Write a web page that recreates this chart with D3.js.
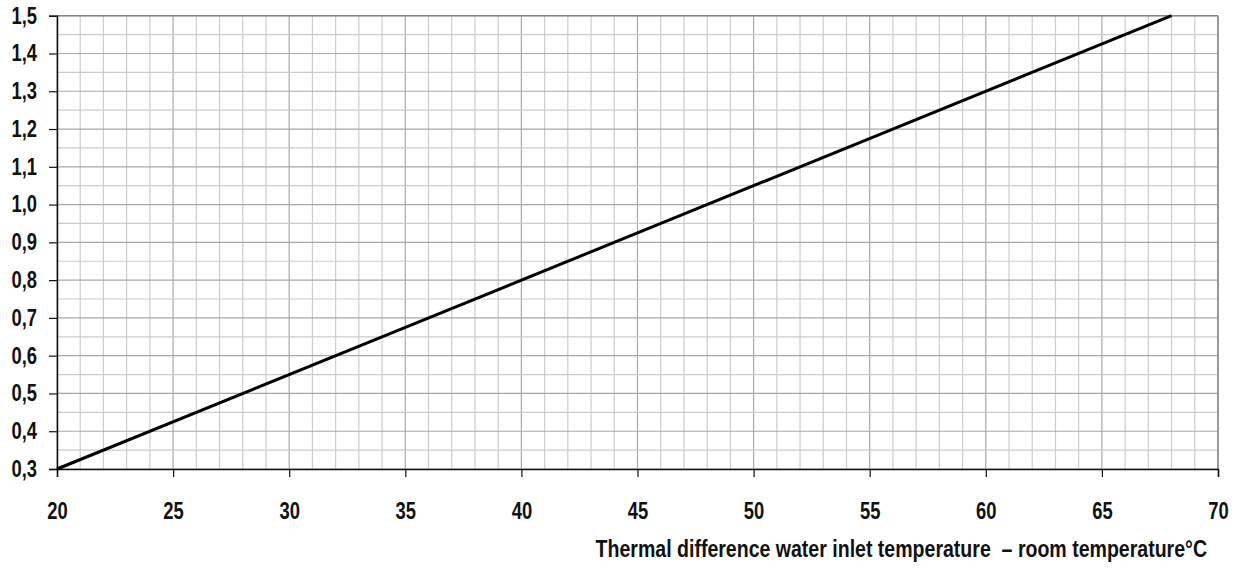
<!DOCTYPE html>
<html><head><meta charset="utf-8">
<script src="https://cdn.jsdelivr.net/npm/d3@7/dist/d3.min.js"></script>
<style>body{margin:0;background:#fff}svg{display:block}text{font-family:"Liberation Sans Narrow","Arial Narrow","Liberation Sans",Arial,sans-serif;font-weight:bold;fill:#111}</style>
</head><body><svg id="c" width="1241" height="568"></svg>
<script>
const xTicks = [20,25,30,35,40,45,50,55,60,65,70];
const yTicks = [0.3,0.4,0.5,0.6,0.7,0.8,0.9,1.0,1.1,1.2,1.3,1.4,1.5];
const lineX = [20, 68];
const lineY = [0.3, 1.5];
const xTitle = "Thermal difference water inlet temperature\u00a0 – room temperature°C";

const SX = 0.8, SXT = 0.85; // horizontal condensing of the font
const svg = d3.select("#c");
const L=57, R=1218, T=15.7, B=469;
const x = d3.scaleLinear().domain([20,70]).range([L,R]);
const y = d3.scaleLinear().domain([0.3,1.5]).range([B,T]);

const g = svg.append("g");
const xm = d3.range(20,70.001,1), ym = d3.range(0,25).map(i=>0.3+i*0.05);
g.selectAll(".vx").data(xm).enter().append("line")
 .attr("x1",d=>x(d)).attr("x2",d=>x(d)).attr("y1",T).attr("y2",B)
 .attr("stroke",d=>Math.abs(d%5)<1e-6?"#a8a8a8":"#cccccc").attr("stroke-width",1.2);
g.selectAll(".hy").data(ym).enter().append("line")
 .attr("y1",d=>y(d)).attr("y2",d=>y(d)).attr("x1",L).attr("x2",R)
 .attr("stroke",(d,i)=>i%2===0?"#a8a8a8":"#cccccc").attr("stroke-width",1.2);
svg.append("line").attr("x1",L).attr("x2",R).attr("y1",T).attr("y2",T).attr("stroke","#888").attr("stroke-width",1.5);
svg.append("line").attr("x1",R).attr("x2",R).attr("y1",T).attr("y2",B).attr("stroke","#888").attr("stroke-width",1.5);

const yAxis = d3.axisLeft(y).tickValues(yTicks).tickSize(8).tickPadding(12)
  .tickFormat(d=>d3.format(".1f")(d).replace(".",","));
const ya = svg.append("g").attr("transform",`translate(${L},0)`).call(yAxis);
const xAxis = d3.axisBottom(x).tickValues(xTicks).tickSize(8).tickPadding(26).tickFormat(d3.format("d"));
const xa = svg.append("g").attr("transform",`translate(0,${B})`).call(xAxis);
[ya,xa].forEach(a=>{a.select(".domain").attr("stroke","#111").attr("stroke-width",1.5);
 a.selectAll(".tick line").attr("stroke","#111").attr("stroke-width",1.2);
 a.selectAll("text").style("font-size","23px").style("font-weight","bold").attr("fill","#111");});
ya.selectAll(".tick text").attr("x",-20/SX).attr("transform",`scale(${SX},1)`);
xa.selectAll(".tick text").attr("transform",`scale(${SX},1)`);

svg.append("path").datum(lineX.map((v,i)=>[v,lineY[i]]))
 .attr("d",d3.line().x(d=>x(d[0])).y(d=>y(d[1])))
 .attr("fill","none").attr("stroke","#000").attr("stroke-width",3);

svg.append("g").attr("transform",`translate(1207,557) scale(${SXT},1)`)
 .append("text").attr("x",0).attr("y",0).attr("text-anchor","end")
 .style("font-size","23px").text(xTitle);
</script></body></html>
